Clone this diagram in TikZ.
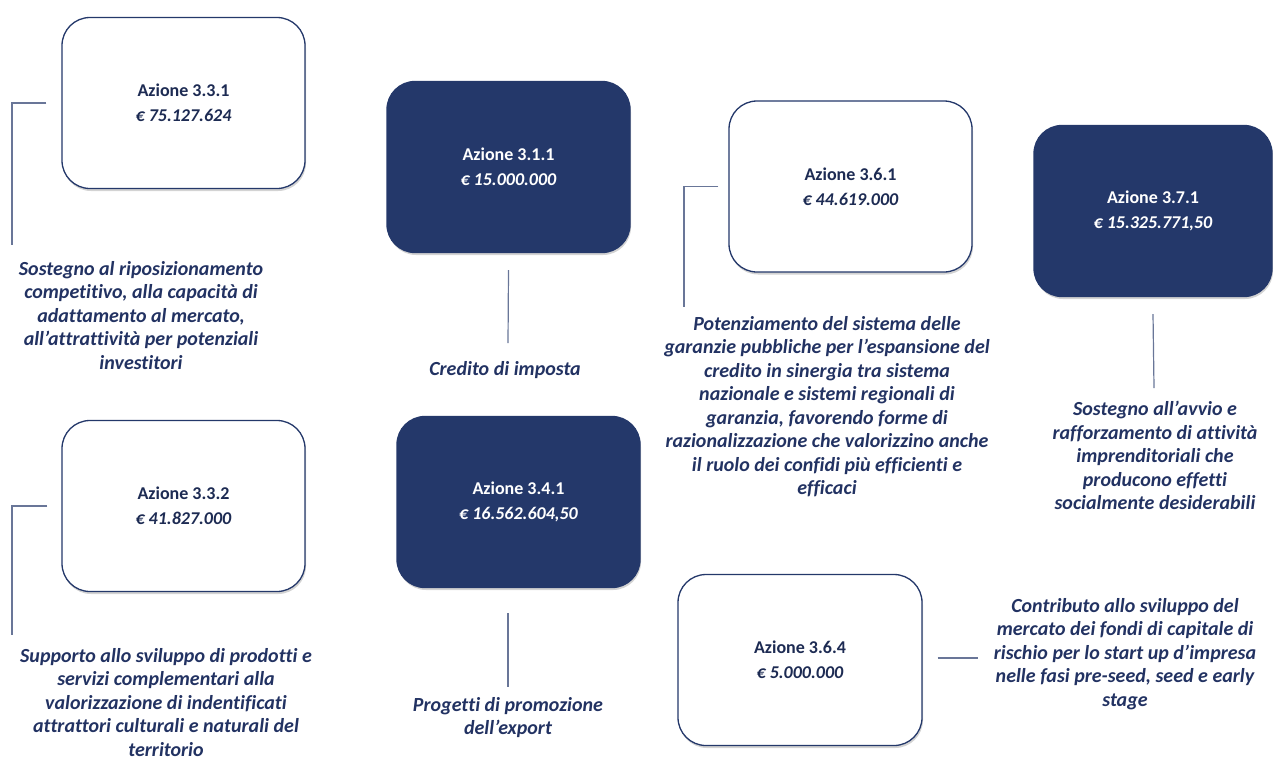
\documentclass[tikz,border=0pt]{standalone}
\usepackage{fontspec}
\setmainfont{Carlito}[Ligatures={NoCommon}]
\usetikzlibrary{shadows}

\definecolor{navy}{RGB}{36,56,106}
\definecolor{inkblue}{RGB}{34,50,98}
\definecolor{linkgray}{RGB}{105,118,152}

\begin{document}
\begin{tikzpicture}[x=1pt, y=-1pt, every node/.style={font=\fontsize{18}{25}\selectfont\bfseries},
	lightbox/.style={draw=navy, line width=1.3pt, fill=white, rounded corners=28pt, minimum width=243pt, minimum height=171pt, align=center, text=inkblue!85!black, drop shadow={shadow xshift=1pt, shadow yshift=-2.5pt, opacity=0.35}},
	darkbox/.style={lightbox, fill=navy, text=white},
	desc/.style={align=center, text=inkblue, inner sep=0pt, anchor=north, font=\fontsize{20}{23.5}\selectfont\bfseries\itshape},
	link/.style={draw=linkgray, line width=1.2pt}]
	\useasboundingbox (0,0) rectangle (1273,761);
	% boxes
	\node[lightbox] (b331) at (183.5,103) {Azione 3.3.1\\ \textit{€ 75.127.624}};
	\node[darkbox] (b311) at (508.5,167) {Azione 3.1.1\\ \textit{€ 15.000.000}};
	\node[lightbox] (b361) at (850.5,186.5) {Azione 3.6.1\\ \textit{€ 44.619.000}};
	\node[darkbox, minimum width=238pt] (b371) at (1153,211) {Azione 3.7.1\\ \textit{€ 15.325.771,50}};
	\node[lightbox] (b332) at (183.5,506) {Azione 3.3.2\\ \textit{€ 41.827.000}};
	\node[darkbox] (b341) at (518.5,502) {Azione 3.4.1\\ \textit{€ 16.562.604,50}};
	\node[lightbox, minimum width=244pt] (b364) at (800,660) {Azione 3.6.4\\ \textit{€ 5.000.000}};
	% descriptions
	\node[desc] (d331) at (141,261) {Sostegno al riposizionamento\\ competitivo, alla capacità di\\ adattamento al mercato,\\ all’attrattività per potenziali\\ investitori};
	\node[desc] (d311) at (505,361) {Credito di imposta};
	\node[desc] (d361) at (827,316) {Potenziamento del sistema delle\\ garanzie pubbliche per l’espansione del\\ credito in sinergia tra sistema\\ nazionale e sistemi regionali di\\ garanzia, favorendo forme di\\ razionalizzazione che valorizzino anche\\ il ruolo dei confidi più efficienti e\\ efficaci};
	\node[desc] (d371) at (1155,401) {Sostegno all’avvio e\\ rafforzamento di attività\\ imprenditoriali che\\ producono effetti\\ socialmente desiderabili};
	\node[desc] (d332) at (166,648) {Supporto allo sviluppo di prodotti e\\ servizi complementari alla\\ valorizzazione di indentificati\\ attrattori culturali e naturali del\\ territorio};
	\node[desc] (d341) at (508,697) {Progetti di promozione\\ dell’export};
	\node[desc] (d364) at (1125,598) {Contributo allo sviluppo del\\ mercato dei fondi di capitale di\\ rischio per lo start up d’impresa\\ nelle fasi pre-seed, seed e early\\ stage};
	% free ends of the connectors
	\coordinate (e331) at (12,245);
	\coordinate (e311) at (508,343);
	\coordinate (e361) at (684,307);
	\coordinate (e371) at (1154,388);
	\coordinate (e332) at (12,635);
	\coordinate (e341) at (508,687);
	\coordinate (e364) at (978,658);
	% connectors
	\draw[link] ([xshift=-15pt]b331.west) -| (e331);
	\draw[link] ([yshift=-17pt]b311.south) -- (e311);
	\draw[link] ([xshift=-10pt]b361.west) -| (e361);
	\draw[link] ([yshift=-17pt]b371.south) -- (e371);
	\draw[link] ([xshift=-14pt]b332.west) -| (e332);
	\draw[link] ([yshift=-25pt]b341.south -| e341) -- (e341);
	\draw[link] ([xshift=15pt]b364.east |- e364) -- (e364);
\end{tikzpicture}
\end{document}
